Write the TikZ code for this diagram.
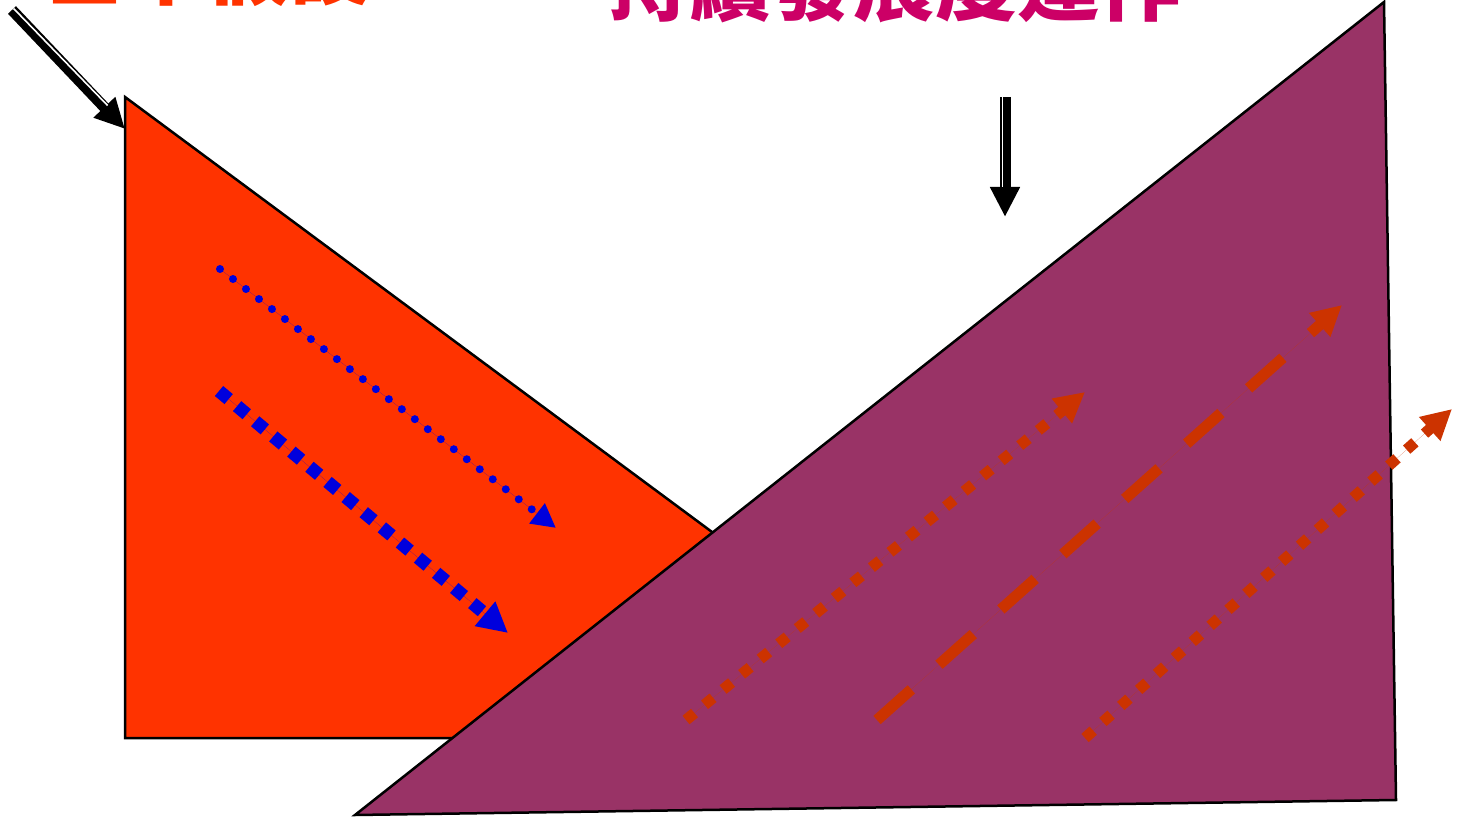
\documentclass[tikz,border=0pt]{standalone}
\usepackage{fontspec}
\newfontfamily\cjk{Noto Sans CJK TC}
\usetikzlibrary{arrows.meta,calc}
\definecolor{leftfill}{HTML}{FF3300}
\definecolor{rightfill}{HTML}{993366}
\definecolor{bluearr}{HTML}{0000DD}
\definecolor{redarr}{HTML}{CC3300}
\definecolor{lefttext}{HTML}{FF3300}
\definecolor{righttext}{HTML}{CC0066}
\begin{document}
\begin{tikzpicture}[x=0.5pt,y=-0.5pt,
  shapeedge/.style={draw=black,line width=1.25pt,line join=miter},
  bluedots/.style={draw=bluearr,fill=bluearr,line width=4pt,line cap=round,dash pattern=on 0pt off 8.2pt,-{Triangle[length=12pt,width=12pt]}},
  bluesquares/.style={draw=bluearr,fill=bluearr,line width=6.5pt,dash pattern=on 6.3pt off 5.5pt,-{Triangle[length=15pt,width=15pt]}},
  redsquares/.style={draw=redarr,fill=redarr,line width=5.5pt,dash pattern=on 5.5pt off 6.5pt,-{Triangle[length=15pt,width=15pt]}},
  reddashes/.style={draw=redarr,fill=redarr,line width=5.5pt,dash pattern=on 23pt off 18.5pt,-{Triangle[length=15pt,width=15pt]}},
  blackarr/.style={draw=black,line width=5.5pt,-{Triangle[length=15pt,width=14pt]}},
  whitestripe/.style={draw=white,line width=0.8pt},
  title/.style={anchor=base,inner sep=0pt,font=\cjk\bfseries\fontsize{41pt}{41pt}\selectfont}
]
\useasboundingbox (0,0) rectangle (1460,817);
\begin{scope}
\clip (0,0) rectangle (1460,817);
\fill[white] (0,0) rectangle (1460,817);

% left triangle
\filldraw[shapeedge,fill=leftfill] (125,97) -- (125,738) -- (990,738) -- cycle;

% blue arrows
\coordinate (b1s) at (220,269);
\coordinate (b1e) at (556,528);
\draw[bluedots] (b1s) -- (b1e);
\coordinate (b2s) at (219,391);
\coordinate (b2e) at (508,633);
\draw[bluesquares] (b2s) -- (b2e);

% purple quadrilateral
\filldraw[shapeedge,fill=rightfill] (355,815) -- (1384,2) -- (1396,800) -- cycle;

% red arrows
\coordinate (r1s) at (686,720);
\coordinate (r1e) at (1085,392);
\draw[redsquares] (r1s) -- (r1e);
\coordinate (r2s) at (877,720);
\coordinate (r2e) at (1342,305);
\draw[reddashes] (r2s) -- (r2e);
\coordinate (r3s) at (1085,738);
\coordinate (r3e) at (1452,409);
\draw[redsquares] (r3s) -- (r3e);

% titles (cut off at the top edge, as in the reference)
\node[title,text=lefttext] (t1) at (207,-1) {基本假設};
\node[title,text=righttext] (t2) at (894,15) {持續發展度運作};

% black double arrows
\coordinate (k1s) at (12,10);
\coordinate (k1e) at (125,129);
\draw[blackarr] (k1s) -- (k1e);
\draw[whitestripe] ($(k1s)+(1.6,-1.5)$) -- ($(k1e)+(-19,-22)+(1.6,-1.5)$);

\coordinate (k2s) at (1005,97);
\coordinate (k2e) at (1005,217);
\draw[blackarr] (k2s) -- (k2e);
\draw[whitestripe] ($(k2s)+(-2.6,0)$) -- ($(k2e)+(-2.6,-30)$);
\end{scope}
\end{tikzpicture}
\end{document}
